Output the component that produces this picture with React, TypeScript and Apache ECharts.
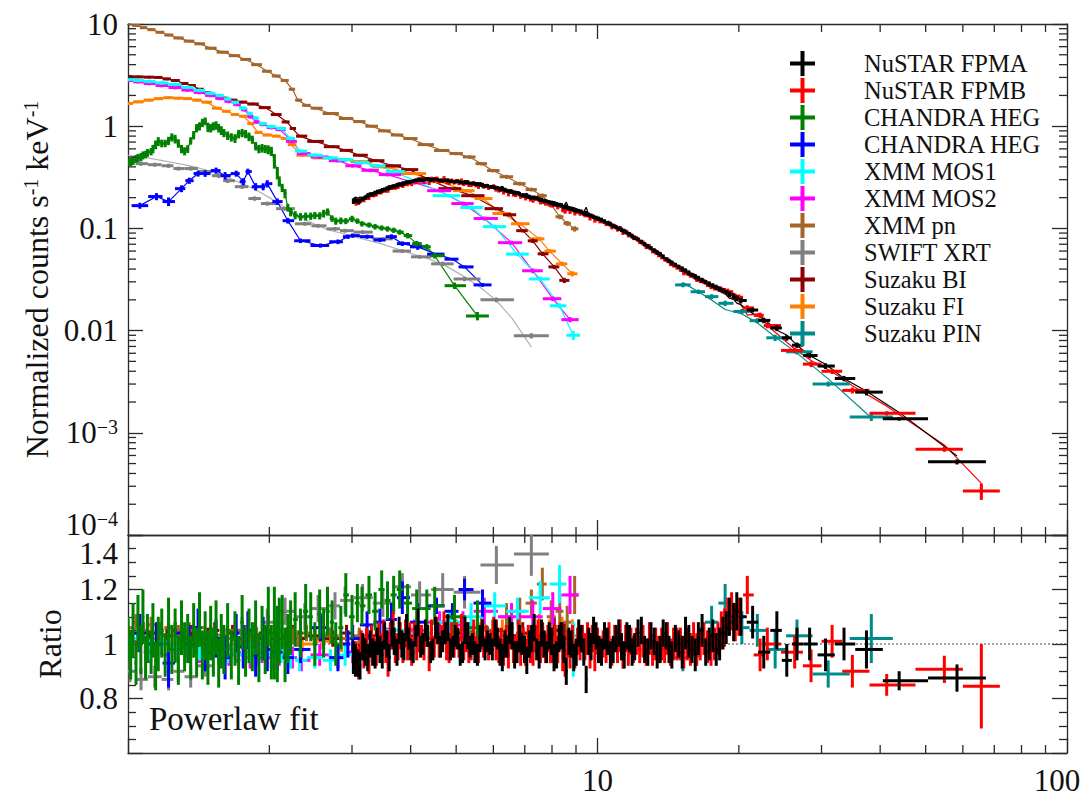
import React, { useEffect, useRef } from 'react';
import * as echarts from 'echarts';

// [energy keV, normalized counts, ratio, ratio error]
type Pt = [number, number, number, number];

const FONT = '"Liberation Serif", "Times New Roman", Times, serif';
const AXIS = '#2a2a2a';
const TEXT = '#111111';

const nustarFPMA: Pt[] = [
  [3.02, 0.185, 0.95, 0.06], [3.05, 0.19, 0.94, 0.06], [3.09, 0.184, 0.93, 0.05], [3.12, 0.186, 0.92, 0.05], [3.16, 0.195, 0.99, 0.05],
  [3.2, 0.2, 0.97, 0.05], [3.24, 0.208, 0.95, 0.05], [3.28, 0.215, 1.0, 0.05], [3.32, 0.216, 0.97, 0.05], [3.36, 0.222, 0.96, 0.05],
  [3.4, 0.228, 1.01, 0.05], [3.44, 0.23, 0.98, 0.05], [3.48, 0.236, 0.96, 0.05], [3.52, 0.24, 1.03, 0.05], [3.56, 0.246, 1.0, 0.05],
  [3.6, 0.25, 0.95, 0.05], [3.65, 0.255, 1.04, 0.05], [3.69, 0.258, 1.01, 0.05], [3.74, 0.265, 0.97, 0.05], [3.78, 0.27, 1.05, 0.05],
  [3.83, 0.27, 1.0, 0.05], [3.87, 0.275, 0.99, 0.05], [3.92, 0.282, 1.06, 0.05], [3.96, 0.285, 1.02, 0.04], [4.0, 0.286, 0.98, 0.04],
  [4.05, 0.29, 0.97, 0.04], [4.1, 0.296, 1.03, 0.04], [4.15, 0.3, 1.08, 0.05], [4.2, 0.296, 0.99, 0.04], [4.25, 0.296, 1.0, 0.04],
  [4.3, 0.302, 1.05, 0.04], [4.35, 0.305, 1.03, 0.04], [4.41, 0.298, 0.97, 0.04], [4.46, 0.3, 0.98, 0.04], [4.52, 0.302, 1.06, 0.04],
  [4.57, 0.298, 1.04, 0.04], [4.63, 0.294, 0.99, 0.04], [4.68, 0.292, 1.01, 0.04], [4.74, 0.296, 1.04, 0.04], [4.8, 0.295, 1.06, 0.05],
  [4.86, 0.289, 0.98, 0.04], [4.92, 0.288, 0.99, 0.04], [4.98, 0.287, 1.03, 0.04], [5.04, 0.29, 1.02, 0.04], [5.1, 0.282, 0.96, 0.04],
  [5.16, 0.28, 0.97, 0.04], [5.22, 0.284, 1.05, 0.05], [5.29, 0.283, 1.03, 0.05], [5.35, 0.276, 0.99, 0.04], [5.42, 0.275, 1.0, 0.04],
  [5.48, 0.272, 0.97, 0.04], [5.55, 0.27, 0.96, 0.04], [5.62, 0.27, 1.02, 0.05], [5.69, 0.265, 1.04, 0.05], [5.76, 0.26, 0.98, 0.04],
  [5.83, 0.262, 1.01, 0.04], [5.9, 0.256, 1.0, 0.04], [5.97, 0.255, 0.98, 0.04], [6.05, 0.251, 1.04, 0.05], [6.12, 0.25, 1.02, 0.04],
  [6.2, 0.243, 0.97, 0.05], [6.27, 0.245, 0.95, 0.05], [6.35, 0.238, 1.0, 0.05], [6.42, 0.232, 0.99, 0.04], [6.5, 0.231, 1.05, 0.05],
  [6.58, 0.228, 1.03, 0.05], [6.66, 0.222, 0.96, 0.05], [6.74, 0.222, 0.97, 0.04], [6.82, 0.217, 1.02, 0.05], [6.9, 0.212, 1.0, 0.04],
  [6.99, 0.21, 0.98, 0.05], [7.07, 0.207, 0.94, 0.05], [7.16, 0.203, 1.0, 0.05], [7.24, 0.2, 1.02, 0.05], [7.33, 0.2, 1.06, 0.05],
  [7.42, 0.198, 0.98, 0.04], [7.51, 0.192, 0.96, 0.05], [7.6, 0.19, 1.04, 0.05], [7.7, 0.186, 1.0, 0.05], [7.79, 0.184, 0.97, 0.04],
  [7.89, 0.18, 1.03, 0.05], [7.98, 0.178, 1.01, 0.05], [8.08, 0.174, 0.95, 0.05], [8.18, 0.172, 0.96, 0.05], [8.28, 0.17, 1.02, 0.05],
  [8.38, 0.168, 1.03, 0.05], [8.48, 0.162, 0.98, 0.05], [8.58, 0.163, 0.9, 0.05], [8.69, 0.158, 1.01, 0.05], [8.79, 0.156, 1.0, 0.05],
  [8.9, 0.152, 0.95, 0.05], [9.01, 0.15, 0.97, 0.05], [9.12, 0.148, 1.04, 0.05], [9.23, 0.146, 1.02, 0.05], [9.35, 0.14, 0.97, 0.05],
  [9.46, 0.14, 0.87, 0.05], [9.58, 0.136, 1.01, 0.05], [9.69, 0.133, 0.99, 0.05], [9.81, 0.13, 1.05, 0.05], [9.93, 0.127, 1.03, 0.05],
  [10.05, 0.124, 0.98, 0.05], [10.2, 0.121, 0.97, 0.05], [10.35, 0.117, 1.03, 0.05], [10.5, 0.113, 1.01, 0.05], [10.65, 0.11, 0.96, 0.05],
  [10.8, 0.106, 0.98, 0.05], [10.95, 0.103, 1.02, 0.05], [11.1, 0.1, 1.04, 0.05], [11.25, 0.097, 0.99, 0.05], [11.4, 0.094, 0.96, 0.05],
  [11.55, 0.091, 1.03, 0.05], [11.7, 0.088, 1.02, 0.05], [11.85, 0.084, 0.97, 0.05], [12.0, 0.081, 0.99, 0.05], [12.2, 0.078, 1.04, 0.05],
  [12.4, 0.074, 1.05, 0.05], [12.6, 0.07, 0.98, 0.05], [12.8, 0.067, 0.97, 0.05], [13.0, 0.064, 1.03, 0.05], [13.2, 0.061, 1.01, 0.05],
  [13.4, 0.058, 0.96, 0.05], [13.6, 0.056, 0.98, 0.05], [13.8, 0.053, 1.04, 0.05], [14.0, 0.05, 1.03, 0.05], [14.2, 0.048, 0.98, 0.05],
  [14.4, 0.046, 0.96, 0.05], [14.65, 0.044, 1.02, 0.05], [14.9, 0.042, 1.0, 0.05], [15.15, 0.04, 0.97, 0.06], [15.4, 0.0385, 1.04, 0.06],
  [15.65, 0.0366, 1.01, 0.06], [15.9, 0.035, 0.98, 0.05], [16.15, 0.0337, 0.96, 0.06], [16.4, 0.0325, 1.02, 0.06], [16.7, 0.0311, 1.05, 0.06],
  [17.0, 0.0298, 0.97, 0.05], [17.3, 0.0286, 1.0, 0.06], [17.6, 0.0275, 1.03, 0.06], [17.9, 0.0265, 0.98, 0.06], [18.2, 0.0255, 1.0, 0.06],
  [18.5, 0.0246, 1.04, 0.06], [18.8, 0.0237, 1.06, 0.06], [19.1, 0.0228, 1.1, 0.07], [19.5, 0.0218, 1.08, 0.07], [19.8, 0.0208, 1.12, 0.07],
  [20.2, 0.0197, 1.1, 0.07], [21.4, 0.0159, 1.08, 0.06], [22.6, 0.0126, 0.97, 0.06], [24.1, 0.0106, 1.05, 0.07], [25.3, 0.0085, 0.94, 0.06],
  [26.6, 0.0072, 1.0, 0.06], [28.3, 0.0057, 1.0, 0.06], [30.6, 0.0045, 0.96, 0.06], [33.5, 0.0034, 1.0, 0.06], [37.4, 0.0025, 0.98, 0.07],
  [43.9, 0.00137, 0.865, 0.035], [58.3, 0.00052, 0.875, 0.05],
];

const nustarFPMB: Pt[] = [
  [3.06, 0.178, 0.95, 0.06], [3.1, 0.181, 0.93, 0.06], [3.14, 0.19, 1.0, 0.05], [3.18, 0.19, 0.96, 0.05], [3.22, 0.2, 1.01, 0.05],
  [3.26, 0.2, 0.94, 0.05], [3.3, 0.213, 1.02, 0.05], [3.34, 0.212, 0.98, 0.05], [3.38, 0.216, 0.97, 0.05], [3.42, 0.226, 1.03, 0.05],
  [3.46, 0.226, 0.99, 0.05], [3.5, 0.236, 1.04, 0.05], [3.54, 0.235, 0.98, 0.05], [3.58, 0.236, 0.93, 0.05], [3.62, 0.25, 1.03, 0.05],
  [3.67, 0.258, 1.07, 0.05], [3.71, 0.251, 0.98, 0.05], [3.76, 0.256, 0.99, 0.05], [3.8, 0.266, 1.03, 0.05], [3.85, 0.262, 0.98, 0.05],
  [3.9, 0.275, 1.04, 0.05], [3.94, 0.272, 0.99, 0.05], [3.98, 0.281, 1.03, 0.05], [4.02, 0.273, 0.97, 0.05], [4.07, 0.29, 1.04, 0.04],
  [4.12, 0.283, 0.98, 0.04], [4.17, 0.296, 1.02, 0.05], [4.22, 0.297, 1.03, 0.04], [4.27, 0.286, 0.98, 0.04], [4.32, 0.301, 1.03, 0.04],
  [4.38, 0.28, 0.95, 0.05], [4.43, 0.306, 1.04, 0.05], [4.49, 0.29, 0.99, 0.04], [4.55, 0.307, 1.05, 0.05], [4.6, 0.288, 0.99, 0.04],
  [4.66, 0.296, 1.02, 0.05], [4.71, 0.31, 1.07, 0.05], [4.77, 0.282, 0.98, 0.04], [4.83, 0.277, 0.97, 0.04], [4.89, 0.293, 1.03, 0.05],
  [4.95, 0.28, 0.99, 0.04], [5.01, 0.29, 1.03, 0.05], [5.07, 0.276, 0.99, 0.04], [5.13, 0.294, 1.06, 0.05], [5.19, 0.27, 0.98, 0.04],
  [5.25, 0.279, 1.02, 0.05], [5.32, 0.265, 0.97, 0.04], [5.38, 0.264, 0.98, 0.04], [5.45, 0.278, 1.04, 0.05], [5.51, 0.263, 0.99, 0.04],
  [5.58, 0.254, 0.97, 0.04], [5.65, 0.269, 1.03, 0.05], [5.72, 0.255, 0.99, 0.04], [5.79, 0.26, 1.02, 0.05], [5.86, 0.248, 0.98, 0.04],
  [5.93, 0.253, 1.01, 0.04], [6.01, 0.258, 1.05, 0.05], [6.08, 0.241, 0.99, 0.05], [6.16, 0.236, 0.98, 0.05], [6.23, 0.239, 1.01, 0.05],
  [6.31, 0.226, 0.97, 0.05], [6.39, 0.235, 1.02, 0.05], [6.46, 0.217, 0.96, 0.05], [6.54, 0.231, 1.03, 0.05], [6.62, 0.216, 0.98, 0.05],
  [6.7, 0.213, 0.98, 0.05], [6.78, 0.222, 1.04, 0.05], [6.86, 0.205, 0.97, 0.05], [6.95, 0.209, 1.01, 0.05], [7.03, 0.198, 0.97, 0.05],
  [7.12, 0.204, 1.02, 0.05], [7.2, 0.193, 0.98, 0.05], [7.29, 0.188, 0.97, 0.05], [7.38, 0.195, 1.02, 0.05], [7.47, 0.196, 1.04, 0.05],
  [7.56, 0.181, 0.98, 0.05], [7.65, 0.182, 1.0, 0.05], [7.75, 0.176, 0.98, 0.05], [7.84, 0.18, 1.02, 0.05], [7.94, 0.17, 0.98, 0.05],
  [8.03, 0.169, 0.98, 0.05], [8.13, 0.172, 1.02, 0.05], [8.23, 0.162, 0.98, 0.05], [8.33, 0.168, 1.03, 0.05], [8.43, 0.152, 0.95, 0.05],
  [8.53, 0.147, 0.93, 0.05], [8.64, 0.155, 1.0, 0.05], [8.74, 0.146, 0.96, 0.05], [8.85, 0.153, 1.02, 0.05], [8.95, 0.141, 0.96, 0.05],
  [9.07, 0.146, 1.01, 0.05], [9.18, 0.14, 0.99, 0.05], [9.29, 0.142, 1.02, 0.05], [9.4, 0.135, 0.99, 0.05], [9.52, 0.136, 1.02, 0.06],
  [9.64, 0.126, 0.96, 0.05], [9.75, 0.131, 1.02, 0.05], [9.87, 0.12, 0.95, 0.05], [10.0, 0.124, 1.01, 0.05], [10.12, 0.118, 0.98, 0.05],
  [10.28, 0.117, 1.0, 0.05], [10.43, 0.111, 0.98, 0.05], [10.58, 0.112, 1.02, 0.06], [10.73, 0.103, 0.97, 0.05], [10.88, 0.105, 1.02, 0.05],
  [11.03, 0.098, 0.98, 0.05], [11.18, 0.1, 1.03, 0.06], [11.33, 0.091, 0.96, 0.05], [11.48, 0.093, 1.02, 0.05], [11.63, 0.086, 0.97, 0.05],
  [11.78, 0.086, 1.01, 0.05], [11.93, 0.081, 0.98, 0.05], [12.1, 0.08, 1.01, 0.05], [12.3, 0.074, 0.98, 0.05], [12.5, 0.072, 1.01, 0.06],
  [12.7, 0.066, 0.97, 0.05], [12.9, 0.066, 1.02, 0.06], [13.1, 0.06, 0.97, 0.05], [13.3, 0.059, 1.0, 0.06], [13.5, 0.055, 0.98, 0.05],
  [13.7, 0.053, 1.0, 0.06], [13.9, 0.05, 0.98, 0.05], [14.1, 0.049, 1.02, 0.06], [14.3, 0.045, 0.97, 0.05], [14.52, 0.044, 1.0, 0.06],
  [14.77, 0.042, 1.0, 0.06], [15.02, 0.04, 1.0, 0.06], [15.27, 0.037, 0.97, 0.06], [15.52, 0.0368, 1.0, 0.06], [15.77, 0.035, 0.98, 0.06],
  [16.02, 0.0343, 1.02, 0.06], [16.27, 0.0318, 0.98, 0.06], [16.55, 0.031, 1.0, 0.06], [16.85, 0.0302, 1.02, 0.06], [17.15, 0.0284, 0.99, 0.06],
  [17.45, 0.0271, 0.98, 0.06], [17.75, 0.0263, 1.0, 0.06], [18.05, 0.0258, 1.02, 0.06], [18.35, 0.0252, 1.05, 0.07], [18.65, 0.0245, 1.06, 0.07],
  [18.95, 0.0242, 1.1, 0.07], [19.3, 0.0234, 1.12, 0.07], [19.65, 0.0216, 1.08, 0.07], [20.0, 0.0212, 1.1, 0.07], [20.85, 0.0167, 1.18, 0.07],
  [22.2, 0.0141, 0.96, 0.06], [23.0, 0.0112, 1.0, 0.06], [26.3, 0.0064, 0.97, 0.06], [28.5, 0.0047, 0.92, 0.06], [31.6, 0.004, 1.01, 0.06],
  [34.9, 0.0026, 0.9, 0.06], [41.3, 0.00155, 0.85, 0.04], [54.8, 0.00069, 0.907, 0.05], [65.7, 0.00027, 0.845, 0.155],
];

const chandraGreen: Pt[] = [
  [1.0, 0.44, 1.02, 0.08], [1.013, 0.45, 0.96, 0.09], [1.025, 0.46, 1.05, 0.1], [1.04, 0.48, 0.93, 0.08], [1.05, 0.49, 1.08, 0.1],
  [1.065, 0.5, 0.98, 0.09], [1.076, 0.52, 1.1, 0.1], [1.09, 0.53, 0.95, 0.08], [1.1, 0.55, 1.02, 0.09], [1.12, 0.565, 0.97, 0.08],
  [1.13, 0.6, 1.05, 0.1], [1.145, 0.66, 0.92, 0.09], [1.16, 0.71, 1.0, 0.1], [1.18, 0.68, 1.04, 0.09], [1.2, 0.68, 0.96, 0.08],
  [1.22, 0.72, 1.07, 0.1], [1.24, 0.78, 0.98, 0.09], [1.26, 0.75, 1.03, 0.1], [1.28, 0.68, 0.94, 0.09], [1.3, 0.6, 1.06, 0.1],
  [1.32, 0.57, 0.99, 0.09], [1.34, 0.6, 1.02, 0.09], [1.36, 0.72, 0.95, 0.08], [1.38, 0.82, 1.05, 0.1], [1.4, 0.96, 0.97, 0.09],
  [1.42, 1.0, 1.09, 0.1], [1.44, 1.08, 0.96, 0.09], [1.46, 1.12, 1.03, 0.09], [1.48, 0.98, 0.95, 0.1], [1.5, 0.96, 1.04, 0.1],
  [1.52, 1.0, 0.97, 0.09], [1.54, 1.02, 1.06, 0.1], [1.56, 0.96, 0.93, 0.09], [1.58, 0.91, 1.01, 0.1], [1.6, 0.86, 0.98, 0.09],
  [1.63, 0.81, 1.05, 0.1], [1.66, 0.78, 0.96, 0.09], [1.69, 0.76, 1.02, 0.1], [1.72, 0.84, 0.94, 0.09], [1.75, 0.86, 1.08, 0.1],
  [1.78, 0.84, 0.97, 0.09], [1.81, 0.79, 1.03, 0.1], [1.84, 0.74, 0.99, 0.09], [1.87, 0.64, 1.06, 0.1], [1.9, 0.6, 0.95, 0.09],
  [1.93, 0.61, 1.04, 0.1], [1.96, 0.6, 0.98, 0.09], [1.99, 0.59, 1.1, 0.11], [2.02, 0.57, 0.97, 0.1], [2.05, 0.46, 1.04, 0.17],
  [2.08, 0.35, 1.0, 0.14], [2.1, 0.29, 1.05, 0.12], [2.13, 0.25, 1.08, 0.1], [2.16, 0.22, 0.96, 0.1], [2.19, 0.16, 1.02, 0.09],
  [2.22, 0.145, 1.06, 0.1], [2.27, 0.135, 1.09, 0.1], [2.33, 0.13, 1.04, 0.09], [2.39, 0.131, 1.12, 0.1], [2.45, 0.132, 1.1, 0.09],
  [2.5, 0.134, 1.0, 0.08], [2.56, 0.133, 1.11, 0.09], [2.61, 0.14, 1.04, 0.09], [2.66, 0.145, 1.12, 0.09], [2.72, 0.125, 1.08, 0.08],
  [2.77, 0.118, 1.0, 0.08], [2.84, 0.119, 1.06, 0.08], [2.91, 0.118, 1.18, 0.08], [3.0, 0.124, 1.1, 0.08], [3.08, 0.118, 1.15, 0.07],
  [3.15, 0.111, 1.14, 0.07], [3.26, 0.108, 1.18, 0.07], [3.36, 0.104, 1.12, 0.07], [3.47, 0.101, 1.2, 0.07], [3.57, 0.099, 1.16, 0.07],
  [3.68, 0.096, 1.18, 0.07], [3.79, 0.092, 1.2, 0.07], [3.94, 0.085, 1.15, 0.07], [4.12, 0.071, 1.13, 0.07], [4.33, 0.066, 1.13, 0.07],
  [4.5, 0.054, 1.14, 0.07], [4.96, 0.0275, 1.1, 0.08], [5.55, 0.0139, 1.06, 0.1],
];

const chandraBlue: Pt[] = [
  [1.06, 0.167, 1.04, 0.07], [1.15, 0.205, 1.0, 0.08], [1.22, 0.183, 0.93, 0.09], [1.3, 0.245, 1.04, 0.08], [1.35, 0.293, 1.0, 0.07],
  [1.41, 0.344, 1.06, 0.07], [1.46, 0.344, 0.97, 0.07], [1.54, 0.368, 1.02, 0.07], [1.61, 0.328, 0.95, 0.08], [1.7, 0.344, 1.04, 0.07],
  [1.76, 0.287, 0.99, 0.08], [1.8, 0.36, 1.05, 0.07], [1.87, 0.256, 0.96, 0.08], [1.94, 0.256, 1.02, 0.08], [1.98, 0.274, 0.98, 0.08],
  [2.08, 0.183, 0.97, 0.07], [2.19, 0.119, 0.95, 0.06], [2.33, 0.0757, 0.98, 0.05], [2.57, 0.068, 1.06, 0.05], [2.8, 0.074, 0.95, 0.05],
  [2.94, 0.083, 1.0, 0.05], [3.01, 0.085, 1.02, 0.05], [3.23, 0.083, 1.07, 0.05], [3.44, 0.077, 1.08, 0.05], [3.64, 0.083, 1.09, 0.06],
  [3.84, 0.071, 1.17, 0.06], [4.14, 0.066, 1.08, 0.07], [4.54, 0.056, 1.14, 0.03], [4.91, 0.05, 1.12, 0.03], [5.21, 0.042, 1.2, 0.04],
  [5.69, 0.028, 1.15, 0.05],
];

const xmmMos1: Pt[] = [
  [1.0, 2.87, 1.0, 0.04], [1.05, 2.8, 1.02, 0.04], [1.11, 2.74, 0.98, 0.04], [1.18, 2.65, 1.01, 0.04], [1.26, 2.56, 0.99, 0.04],
  [1.34, 2.4, 1.0, 0.04], [1.42, 2.24, 0.98, 0.04], [1.5, 2.1, 1.01, 0.04], [1.57, 2.0, 0.99, 0.04], [1.63, 1.85, 0.97, 0.04],
  [1.69, 1.71, 0.98, 0.04], [1.76, 1.5, 0.96, 0.04], [1.82, 1.33, 0.97, 0.04], [1.87, 1.2, 0.96, 0.04], [1.93, 1.06, 0.98, 0.04],
  [2.02, 0.99, 0.96, 0.04], [2.12, 0.95, 0.97, 0.04], [2.22, 0.76, 0.95, 0.04], [2.32, 0.57, 0.94, 0.04], [2.5, 0.52, 0.95, 0.04],
  [2.7, 0.49, 0.94, 0.04], [2.9, 0.47, 0.96, 0.04], [3.15, 0.44, 0.98, 0.04], [3.4, 0.41, 1.02, 0.04], [3.68, 0.36, 1.05, 0.04],
  [4.1, 0.29, 1.04, 0.04], [4.84, 0.209, 1.08, 0.04], [5.38, 0.16, 1.1, 0.05], [6.04, 0.104, 1.14, 0.05], [6.75, 0.056, 1.12, 0.05],
  [7.55, 0.032, 1.17, 0.06], [8.3, 0.0175, 1.22, 0.07], [8.88, 0.009, 0.98, 0.1],
];

const xmmMos2: Pt[] = [
  [1.0, 2.8, 0.99, 0.04], [1.05, 2.72, 1.01, 0.04], [1.11, 2.62, 0.97, 0.04], [1.18, 2.5, 1.0, 0.04], [1.26, 2.39, 0.98, 0.04],
  [1.34, 2.26, 0.99, 0.04], [1.42, 2.14, 0.97, 0.04], [1.5, 2.0, 1.0, 0.04], [1.57, 1.87, 0.98, 0.04], [1.64, 1.75, 0.96, 0.04],
  [1.71, 1.63, 0.97, 0.04], [1.77, 1.45, 0.96, 0.04], [1.82, 1.24, 0.95, 0.04], [1.88, 1.1, 0.96, 0.04], [1.93, 1.04, 0.97, 0.04],
  [2.02, 0.97, 0.95, 0.04], [2.1, 0.93, 0.96, 0.04], [2.24, 0.71, 0.95, 0.04], [2.34, 0.54, 0.94, 0.04], [2.56, 0.5, 0.96, 0.04],
  [2.8, 0.46, 0.95, 0.04], [3.01, 0.41, 0.97, 0.04], [3.28, 0.37, 0.99, 0.04], [3.57, 0.336, 1.02, 0.04], [4.08, 0.28, 1.05, 0.04],
  [4.61, 0.234, 1.08, 0.04], [5.17, 0.175, 1.07, 0.05], [5.74, 0.125, 1.12, 0.05], [6.56, 0.0725, 1.1, 0.05], [7.28, 0.0385, 1.1, 0.06],
  [8.03, 0.0205, 1.13, 0.06], [8.74, 0.0128, 1.18, 0.07],
];

const xmmPn: Pt[] = [
  [1.0, 10.2, 1.06, 0.03], [1.04, 9.7, 1.08, 0.03], [1.08, 9.2, 1.05, 0.03], [1.12, 8.8, 1.07, 0.03], [1.17, 8.3, 1.05, 0.03],
  [1.22, 7.8, 1.06, 0.03], [1.28, 7.3, 1.04, 0.03], [1.35, 6.8, 1.05, 0.03], [1.42, 6.4, 1.06, 0.03], [1.5, 5.8, 1.04, 0.03],
  [1.59, 5.3, 1.03, 0.03], [1.69, 4.9, 1.05, 0.03], [1.78, 4.5, 1.04, 0.03], [1.88, 4.0, 1.03, 0.03], [1.98, 3.45, 1.05, 0.03],
  [2.07, 3.1, 1.04, 0.03], [2.16, 2.8, 1.02, 0.03], [2.24, 2.3, 1.03, 0.03], [2.3, 1.8, 1.02, 0.03], [2.4, 1.6, 1.04, 0.03],
  [2.5, 1.5, 1.02, 0.03], [2.7, 1.33, 1.03, 0.03], [2.93, 1.19, 1.02, 0.03], [3.11, 1.11, 1.03, 0.03], [3.3, 1.0, 1.02, 0.03],
  [3.52, 0.9, 1.03, 0.03], [3.74, 0.82, 1.01, 0.03], [3.98, 0.757, 1.04, 0.03], [4.3, 0.66, 1.02, 0.03], [4.68, 0.578, 1.03, 0.03],
  [5.0, 0.54, 1.05, 0.04], [5.34, 0.5, 1.04, 0.04], [5.66, 0.43, 1.06, 0.04], [5.98, 0.368, 1.05, 0.04], [6.4, 0.32, 1.1, 0.05],
  [6.83, 0.274, 1.12, 0.05], [7.23, 0.24, 1.15, 0.05], [7.63, 0.209, 1.22, 0.06], [7.97, 0.17, 1.1, 0.06], [8.31, 0.13, 1.12, 0.06],
  [8.62, 0.112, 1.08, 0.06], [8.94, 0.099, 1.18, 0.07],
];

const swiftXrt: Pt[] = [
  [1.01, 0.45, 0.9, 0.04], [1.066, 0.43, 0.87, 0.04], [1.14, 0.42, 0.88, 0.04], [1.22, 0.41, 0.87, 0.04], [1.28, 0.385, 0.9, 0.04],
  [1.36, 0.385, 0.88, 0.04], [1.46, 0.36, 0.92, 0.04], [1.56, 0.328, 0.98, 0.05], [1.63, 0.293, 1.02, 0.05], [1.75, 0.256, 1.05, 0.05],
  [1.86, 0.196, 1.03, 0.05], [1.98, 0.175, 1.08, 0.05], [2.16, 0.156, 1.12, 0.05], [2.38, 0.111, 1.1, 0.05], [2.54, 0.106, 1.13, 0.05],
  [2.76, 0.099, 1.14, 0.05], [2.9, 0.095, 1.16, 0.05], [3.16, 0.092, 1.17, 0.05], [3.49, 0.079, 1.15, 0.05], [3.84, 0.06, 1.21, 0.05],
  [4.18, 0.0527, 1.18, 0.05], [4.68, 0.045, 1.2, 0.06], [5.21, 0.032, 1.19, 0.06], [6.09, 0.02, 1.29, 0.07], [7.23, 0.0089, 1.33, 0.08],
];

// SWIFT XRT folded model curve [keV, counts]
const swiftModel: [number, number][] = [
  [1.0, 0.52], [1.1, 0.49], [1.2, 0.455], [1.3, 0.425], [1.4, 0.395], [1.5, 0.36], [1.6, 0.33], [1.7, 0.29], [1.8, 0.26],
  [1.9, 0.23], [2.0, 0.2], [2.1, 0.175], [2.2, 0.15], [2.3, 0.13], [2.45, 0.115], [2.66, 0.097], [2.9, 0.088], [3.16, 0.079],
  [3.45, 0.071], [3.74, 0.063], [4.05, 0.056], [4.39, 0.05], [4.75, 0.043], [5.17, 0.0343], [5.6, 0.027], [6.09, 0.0197],
  [6.59, 0.013], [7.23, 0.0069],
];

const suzakuBI: Pt[] = [
  [1.0, 3.06, 1.03, 0.03], [1.05, 3.04, 1.04, 0.03], [1.11, 3.02, 1.02, 0.03], [1.16, 3.0, 1.04, 0.03], [1.21, 2.9, 1.03, 0.03],
  [1.26, 2.8, 1.05, 0.03], [1.32, 2.62, 1.03, 0.03], [1.37, 2.5, 1.04, 0.03], [1.42, 2.3, 1.02, 0.03], [1.48, 2.12, 1.03, 0.03],
  [1.53, 2.0, 1.05, 0.03], [1.6, 1.88, 1.03, 0.03], [1.67, 1.8, 1.04, 0.03], [1.75, 1.72, 1.02, 0.03], [1.84, 1.65, 1.03, 0.03],
  [1.96, 1.52, 1.04, 0.03], [2.07, 1.3, 1.02, 0.03], [2.18, 1.1, 1.03, 0.03], [2.24, 0.95, 1.04, 0.03], [2.32, 0.8, 1.02, 0.03],
  [2.5, 0.71, 1.03, 0.03], [2.73, 0.63, 1.02, 0.03], [2.92, 0.58, 1.04, 0.03], [3.11, 0.52, 1.02, 0.03], [3.38, 0.46, 1.03, 0.03],
  [3.66, 0.41, 1.01, 0.03], [3.98, 0.376, 1.03, 0.03], [4.33, 0.307, 1.02, 0.03], [4.85, 0.245, 1.04, 0.04], [5.42, 0.209, 1.02, 0.04],
  [6.09, 0.156, 1.05, 0.04], [6.5, 0.136, 1.03, 0.04], [6.93, 0.095, 1.04, 0.04], [7.28, 0.0755, 1.02, 0.05], [7.64, 0.0564, 1.03, 0.05],
  [8.09, 0.042, 1.05, 0.05], [8.5, 0.031, 1.02, 0.06],
];

const suzakuFI: Pt[] = [
  [1.0, 1.67, 1.0, 0.03], [1.05, 1.73, 1.01, 0.03], [1.11, 1.8, 0.99, 0.03], [1.16, 1.86, 1.02, 0.03], [1.22, 1.9, 1.0, 0.03],
  [1.28, 1.88, 1.01, 0.03], [1.34, 1.86, 0.99, 0.03], [1.4, 1.8, 1.02, 0.03], [1.47, 1.72, 1.0, 0.03], [1.55, 1.5, 1.01, 0.03],
  [1.62, 1.4, 0.99, 0.03], [1.69, 1.3, 1.0, 0.03], [1.76, 1.25, 1.01, 0.03], [1.83, 1.06, 0.99, 0.03], [1.89, 0.87, 1.0, 0.03],
  [1.98, 0.82, 1.01, 0.03], [2.07, 0.8, 0.99, 0.03], [2.16, 0.76, 1.0, 0.03], [2.22, 0.66, 1.02, 0.03], [2.35, 0.52, 1.0, 0.03],
  [2.6, 0.49, 1.01, 0.03], [2.85, 0.47, 1.0, 0.03], [3.11, 0.45, 1.02, 0.03], [3.52, 0.4, 1.01, 0.03], [4.04, 0.344, 1.03, 0.03],
  [4.61, 0.287, 1.02, 0.04], [5.26, 0.234, 1.04, 0.04], [5.69, 0.196, 1.02, 0.04], [6.27, 0.14, 1.05, 0.04], [6.83, 0.111, 1.03, 0.04],
  [7.52, 0.079, 1.06, 0.05], [7.9, 0.06, 1.04, 0.05], [8.41, 0.045, 1.05, 0.05], [8.84, 0.036, 1.03, 0.06],
];

const suzakuPIN: Pt[] = [
  [15.2, 0.028, 0.95, 0.05], [16.4, 0.024, 1.0, 0.05], [17.5, 0.0215, 1.08, 0.06], [18.7, 0.0185, 1.15, 0.07], [20.3, 0.0154, 1.06, 0.06],
  [21.9, 0.0125, 1.05, 0.06], [23.9, 0.0085, 0.98, 0.07], [26.6, 0.0062, 1.03, 0.06], [31.0, 0.003, 0.89, 0.05], [38.3, 0.00143, 1.02, 0.09],
];

// axis ranges and tick scaffolding
const X_MIN = 1;
const X_MAX = 100;
const Y_MIN = 1e-4;
const Y_MAX = 10;
const R_MIN = 0.6;
const R_MAX = 1.4;
const xMinorTicks = [2, 3, 4, 5, 6, 7, 8, 9, 20, 30, 40, 50, 60, 70, 80, 90];
const yMantissas = [2, 3, 4, 5, 6, 7, 8, 9];
const yDecades = [1e-4, 1e-3, 1e-2, 1e-1, 1];

interface DS {
  name: string;
  color: string;
  pts: Pt[];
  model?: [number, number][];
  modelColor?: string;
  modelFromRatio?: boolean;
}

const DATASETS: DS[] = [
  { name: 'NuSTAR FPMA', color: '#000000', pts: nustarFPMA, modelFromRatio: true },
  { name: 'NuSTAR FPMB', color: '#ff0000', pts: nustarFPMB, modelFromRatio: true },
  { name: 'CHANDRA HEG', color: '#008000', pts: chandraGreen },
  { name: 'CHANDRA HEG ', color: '#0000ff', pts: chandraBlue },
  { name: 'XMM MOS1', color: '#00ffff', pts: xmmMos1 },
  { name: 'XMM MOS2', color: '#ff00ff', pts: xmmMos2 },
  { name: 'XMM pn', color: '#a5652a', pts: xmmPn },
  { name: 'SWIFT XRT', color: '#808080', pts: swiftXrt, model: swiftModel, modelColor: '#b3b3b3' },
  { name: 'Suzaku BI', color: '#8b0000', pts: suzakuBI },
  { name: 'Suzaku FI', color: '#ff7f00', pts: suzakuFI },
  { name: 'Suzaku PIN', color: '#008b8b', pts: suzakuPIN, modelFromRatio: true },
];

const PLUS = 'path://M10.5,0H14.5V10.5H25V14.5H14.5V25H10.5V14.5H0V10.5H10.5Z';

function binEdges(pts: Pt[]): [number, number][] {
  return pts.map((p, i) => {
    const e = p[0];
    const lo = i > 0 ? Math.sqrt(pts[i - 1][0] * e) : 0;
    const hi = i < pts.length - 1 ? Math.sqrt(e * pts[i + 1][0]) : 0;
    const l = lo || (e * e) / hi;
    const h = hi || (e * e) / lo;
    return [l, h];
  });
}

const crossRender = (color: string, lw: number) => (params: any, api: any) => {
  const x = api.value(0), xl = api.value(1), xh = api.value(2);
  const y = api.value(3), yl = api.value(4), yh = api.value(5);
  const c = api.coord([x, y]);
  const a = api.coord([xl, y]);
  const b = api.coord([xh, y]);
  const d = api.coord([x, yl]);
  const u = api.coord([x, yh]);
  const style = { stroke: color, lineWidth: lw, fill: null };
  return {
    type: 'group',
    children: [
      { type: 'line', shape: { x1: a[0], y1: c[1], x2: b[0], y2: c[1] }, style },
      { type: 'line', shape: { x1: c[0], y1: u[1], x2: c[0], y2: d[1] }, style },
    ],
  };
};

// minor tick marks on the top and bottom frame edges, positioned with the axis scale
const xTickRender = (len: number, yLo: number, yHi: number) => (params: any, api: any) => {
  const v = api.value(0);
  const top = api.coord([v, yHi]);
  const bot = api.coord([v, yLo]);
  const style = { stroke: AXIS, lineWidth: 1.3, fill: null };
  return {
    type: 'group',
    children: [
      { type: 'line', shape: { x1: top[0], y1: top[1], x2: top[0], y2: top[1] + len }, style },
      { type: 'line', shape: { x1: bot[0], y1: bot[1], x2: bot[0], y2: bot[1] - len }, style },
    ],
  };
};

// minor tick marks on the left and right frame edges
const yTickRender = (len: number, xLo: number, xHi: number) => (params: any, api: any) => {
  const v = api.value(1);
  const left = api.coord([xLo, v]);
  const right = api.coord([xHi, v]);
  const style = { stroke: AXIS, lineWidth: 1.3, fill: null };
  return {
    type: 'group',
    children: [
      { type: 'line', shape: { x1: left[0], y1: left[1], x2: left[0] + len, y2: left[1] }, style },
      { type: 'line', shape: { x1: right[0], y1: right[1], x2: right[0] - len, y2: right[1] }, style },
    ],
  };
};

function buildOption() {
  const series: any[] = [];
  const drawOrder = [...DATASETS].reverse();

  series.push({
    type: 'line', name: 'unity', xAxisIndex: 2, yAxisIndex: 2,
    data: [[X_MIN, 1], [X_MAX, 1]], showSymbol: false, silent: true, z: 1,
    lineStyle: { color: '#444444', width: 1, type: [2, 2] },
  });

  for (const ds of drawOrder) {
    const modelData = ds.model ?? ds.pts.map((p) => [p[0], ds.modelFromRatio ? p[1] / p[2] : p[1]]);
    series.push({
      type: 'line', name: ds.name + ' model', xAxisIndex: 0, yAxisIndex: 0,
      data: modelData, showSymbol: false, silent: true, z: 2, clip: true,
      lineStyle: { color: ds.modelColor ?? ds.color, width: 1.2 },
    });
  }

  for (const ds of drawOrder) {
    const ed = binEdges(ds.pts);
    const top = ds.pts.map((p, i) => {
      const err = (p[1] * p[3]) / p[2];
      return [p[0], ed[i][0], ed[i][1], p[1], p[1] - err, p[1] + err];
    });
    const ratio = ds.pts.map((p, i) => [p[0], ed[i][0], ed[i][1], p[2], p[2] - p[3], p[2] + p[3]]);
    series.push({
      type: 'custom', name: ds.name, xAxisIndex: 0, yAxisIndex: 0, data: top,
      encode: { x: 0, y: 3 }, renderItem: crossRender(ds.color, 3), clip: true, z: 3,
      itemStyle: { color: ds.color }, silent: true,
    });
    series.push({
      type: 'custom', name: ds.name + ' ratio', xAxisIndex: 2, yAxisIndex: 2, data: ratio,
      encode: { x: 0, y: 3 }, renderItem: crossRender(ds.color, 3), clip: true, z: 3,
      itemStyle: { color: ds.color }, silent: true,
    });
  }

  const yMinor: number[][] = [];
  for (const d of yDecades) for (const m of yMantissas) yMinor.push([X_MIN, d * m]);

  series.push({
    type: 'custom', name: 'xminor-top', xAxisIndex: 0, yAxisIndex: 0,
    data: xMinorTicks.map((v) => [v, 1]), encode: { x: 0, y: 1 },
    renderItem: xTickRender(8, Y_MIN, Y_MAX), silent: true, clip: false, z: 10,
    itemStyle: { color: AXIS },
  });
  series.push({
    type: 'custom', name: 'xminor-bottom', xAxisIndex: 2, yAxisIndex: 2,
    data: xMinorTicks.map((v) => [v, 1]), encode: { x: 0, y: 1 },
    renderItem: xTickRender(8, R_MIN, R_MAX), silent: true, clip: false, z: 10,
    itemStyle: { color: AXIS },
  });
  series.push({
    type: 'custom', name: 'yminor-top', xAxisIndex: 0, yAxisIndex: 0,
    data: yMinor, encode: { x: 0, y: 1 },
    renderItem: yTickRender(8, X_MIN, X_MAX), silent: true, clip: false, z: 10,
    itemStyle: { color: AXIS },
  });

  const axisLine = { show: true, lineStyle: { color: AXIS, width: 1.3 } };
  const majorTick = { show: true, inside: true, length: 15, lineStyle: { color: AXIS, width: 1.3 } };
  const baseLabel = { fontFamily: FONT, fontSize: 31, color: TEXT };

  const xCommon = (gridIndex: number, position: string, labels: boolean) => ({
    type: 'log', logBase: 10, gridIndex, position, min: X_MIN, max: X_MAX,
    axisLine, axisTick: majorTick, splitLine: { show: false }, minorTick: { show: false },
    axisLabel: labels
      ? {
          show: true, margin: 12, ...baseLabel, showMinLabel: true, showMaxLabel: true,
          formatter: (v: number) => {
            const k = Math.round(Math.log10(v));
            if (k === 1) return '10';
            if (k === 2) return '{r|100}';
            return '';
          },
          rich: { r: { ...baseLabel, padding: [0, 20, 0, 0] } },
        }
      : { show: false },
  });

  const topYLabel = (v: number) => {
    const k = Math.round(Math.log10(v));
    if (k === 1) return '10';
    if (k === 0) return '1';
    if (k === -1) return '0.1';
    if (k === -2) return '0.01';
    if (k === -4) return '{b|10}{s|\u22124}';
    return '10{s|\u2212' + -k + '}';
  };

  return {
    animation: false,
    backgroundColor: '#ffffff',
    grid: [
      { left: 128, top: 24, width: 939, height: 511, containLabel: false, outerBoundsMode: 'none' },
      { left: 128, top: 535, width: 939, height: 218, containLabel: false, outerBoundsMode: 'none' },
    ],
    xAxis: [
      xCommon(0, 'bottom', false),
      xCommon(0, 'top', false),
      xCommon(1, 'bottom', true),
      xCommon(1, 'top', false),
    ],
    yAxis: [
      {
        type: 'log', logBase: 10, gridIndex: 0, position: 'left', min: Y_MIN, max: Y_MAX,
        axisLine, axisTick: majorTick, splitLine: { show: false }, minorTick: { show: false },
        axisLabel: {
          show: true, margin: 10, ...baseLabel, showMinLabel: true, showMaxLabel: true,
          formatter: topYLabel,
          rich: {
            s: { fontFamily: FONT, fontSize: 20, color: TEXT, verticalAlign: 'top' },
            b: { ...baseLabel, padding: [0, 0, 22, 0] },
          },
        },
        name: 'Normalized counts s{s|-1} keV{s|-1}',
        nameLocation: 'middle', nameRotate: 90, nameGap: 69,
        nameTextStyle: {
          fontFamily: FONT, fontSize: 32, color: TEXT,
          rich: { s: { fontFamily: FONT, fontSize: 20, color: TEXT, verticalAlign: 'top' } },
        },
      },
      {
        type: 'log', logBase: 10, gridIndex: 0, position: 'right', min: Y_MIN, max: Y_MAX,
        axisLine, axisTick: majorTick, splitLine: { show: false }, minorTick: { show: false },
        axisLabel: { show: false },
      },
      {
        type: 'value', gridIndex: 1, position: 'left', min: R_MIN, max: R_MAX, interval: 0.2,
        axisLine, axisTick: majorTick, splitLine: { show: false },
        minorTick: { show: true, splitNumber: 4, length: 8, lineStyle: { color: AXIS, width: 1.3 } },
        axisLabel: {
          show: true, margin: 10, ...baseLabel, showMinLabel: true, showMaxLabel: true,
          formatter: (v: number) => {
            const r = Math.round(v * 10) / 10;
            if (r <= 0.6) return '';
            if (r >= 1.4) return '{t|1.4}';
            return r === 1 ? '1' : r.toFixed(1);
          },
          rich: { t: { ...baseLabel, padding: [36, 0, 0, 0] } },
        },
        name: 'Ratio', nameLocation: 'middle', nameRotate: 90, nameGap: 62,
        nameTextStyle: { fontFamily: FONT, fontSize: 32, color: TEXT },
      },
      {
        type: 'value', gridIndex: 1, position: 'right', min: R_MIN, max: R_MAX, interval: 0.2,
        axisLine, axisTick: majorTick, splitLine: { show: false },
        minorTick: { show: true, splitNumber: 4, length: 8, lineStyle: { color: AXIS, width: 1.3 } },
        axisLabel: { show: false },
      },
    ],
    legend: {
      orient: 'vertical', left: 785, top: 46, itemWidth: 25, itemHeight: 25, itemGap: 2,
      icon: PLUS, selectedMode: false,
      textStyle: { fontFamily: FONT, fontSize: 24.5, color: TEXT, padding: [0, 0, 0, 44] },
      data: DATASETS.map((d) => ({ name: d.name, icon: PLUS, itemStyle: { color: d.color, borderWidth: 0 } })),
    },
    graphic: [
      {
        type: 'text', left: 149, top: 702, silent: true,
        style: { text: 'Powerlaw fit', font: '33px "Liberation Serif", "Times New Roman", serif', fill: TEXT },
      },
    ],
    series,
  };
}

export default function App() {
  const ref = useRef<HTMLDivElement>(null);
  useEffect(() => {
    if (!ref.current) return;
    const chart = echarts.init(ref.current, undefined, { renderer: 'svg' });
    chart.setOption(buildOption() as any);
    return () => chart.dispose();
  }, []);
  return (
    <div
      ref={ref}
      style={{ position: 'fixed', left: 0, top: 0, width: 1088, height: 800, background: '#ffffff' }}
    />
  );
}
